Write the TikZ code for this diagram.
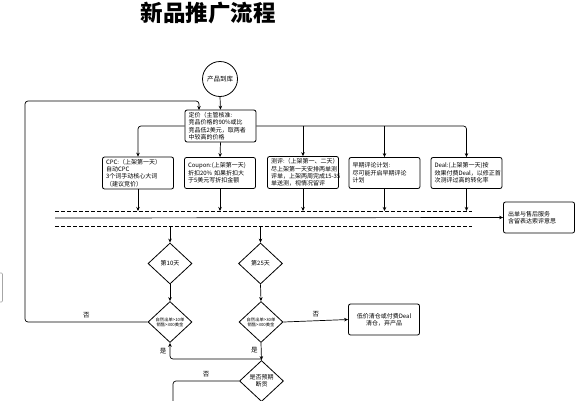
\documentclass[tikz,border=0pt]{standalone}
\usepackage{fontspec}
\setmainfont{Noto Sans CJK SC}
\usetikzlibrary{shapes.geometric,arrows.meta}

\tikzset{
  stepbox/.style={draw, rounded corners=2pt, line width=0.8pt, align=left, text width=64pt,
    minimum width=71pt, minimum height=31pt, inner sep=2pt, font=\fontsize{6}{7.4}\selectfont},
  check/.style={draw, diamond, line width=0.8pt, inner sep=0pt, aspect=1.07,
    minimum width=44pt, minimum height=41pt, align=center, font=\fontsize{6}{7.4}\selectfont},
  smalltext/.style={font=\fontsize{4.3}{5.3}\selectfont},
  link/.style={line width=0.7pt, rounded corners=3pt},
  flow/.style={link, -{Stealth[length=4pt,width=3.5pt]}},
  bus/.style={line width=0.7pt, dash pattern=on 3.5pt off 2.5pt},
  lbl/.style={font=\fontsize{6.5}{8}\selectfont},
}

\begin{document}
\begin{tikzpicture}[x=1pt,y=-1pt]

   \useasboundingbox (0,0) rectangle (580,400);

   \node (Title) at (208,13) [font=\fontsize{22.5}{26}\selectfont\bfseries] {新品推广流程};

   \node (Start) at (220,79) [draw, circle, line width=0.8pt, minimum size=35pt, inner sep=0pt,
     font=\fontsize{6.5}{8}\selectfont] {产品到库};

   \node (Price) at (220.5,126) [stepbox] {定价（主管核准:\\竞品价格的90\%或比\\竞品低2美元，取两者\\中较高的价格};

   \node (Cpc) at (138,173) [stepbox] {CPC:（上架第一天）\\自动CPC\\3个词手动核心大词\\（建议竞价）};
   \node (Coupon) at (220,173) [stepbox] {Coupon:(上架第一天)\\折扣20\% 如果折扣大\\于5美元写折扣金额};
   \node (Review) at (303,172.5) [stepbox] {测评:（上架第一、二天）\\尽上架第一天安排两单测\\\mbox{评单，上架两周完成15-35}\\单送测，视情况留评};
   \node (Early) at (384.5,173) [stepbox] {早期评论计划:\\尽可能开启早期评论\\计划};
   \node (Deal) at (466.5,173) [stepbox] {Deal:(上架第一天)按\\效果付费Deal，以修正首\\次测评过高的转化率};

   \node (After) at (539,217.5) [stepbox, text width=62pt] {出单与售后服务\\含留表达索评意思};

   \node (Day10) at (170,263.5) [check] {第10天};
   \node (Day25) at (260.5,263.5) [check] {第25天};
   \node (Check10) at (170,322) [check, smalltext] {自然出单>10单\\销售>300美金};
   \node (Check25) at (261,322) [check, smalltext] {自然出单>30单\\销售>300美金};
   \node (Stock) at (261.5,381) [check] {是否预期\\断货};

   \node (Clear) at (384,319.5) [stepbox, align=center] {低价清仓或付费Deal\\清仓，弃产品};

   \coordinate (DashA) at (55,211);
   \coordinate (DashAEnd) at (472,211);
   \coordinate (BusL) at (55,218);
   \coordinate (DashB) at (55,226);
   \coordinate (DashBEnd) at (472,226);
   \coordinate (LoopL) at (25,101);
   \coordinate (Feed) at (199,110);
   \coordinate (YesJoin) at (261,359);
   \coordinate (StockOut) at (173,406);

   \draw [flow] (Start.south) -- (Price.north);
   \draw [flow] (Price.west) -| (Cpc.north);
   \draw [flow] (Price.east) -| (Deal.north);
   \draw [flow] (Price.south) -- (Coupon.north);
   \draw [flow] (Review.north |- Price.east) -- (Review.north);
   \draw [flow] (Early.north |- Price.east) -- (Early.north);

   \draw [flow] (Cpc.south) -- (Cpc.south |- DashA);
   \draw [flow] (Coupon.south) -- (Coupon.south |- DashA);
   \draw [flow] (Review.south) -- (Review.south |- DashA);
   \draw [flow] (Early.south) -- (Early.south |- DashA);
   \draw [flow] (Deal.south) -- (Deal.south |- DashA);

   \draw [bus] (DashA) -- (DashAEnd);
   \draw [bus] (DashB) -- (DashBEnd);
   \draw [flow] (BusL) -- (After.west);

   \draw [flow] (Day10.north |- DashB) -- (Day10.north);
   \draw [flow] (Day25.north |- DashB) -- (Day25.north);
   \draw [flow] (Day10.south) -- (Check10.north);
   \draw [flow] (Day25.south) -- (Check25.north);

   \draw [flow] (Check10.west) -- node [lbl, above, pos=0.5] {否} (Check10.west -| LoopL)
     -- (LoopL) -| (Feed);
   \draw [flow] (Check25.east) -- node [lbl, above, pos=0.5] {否} (Clear.west);
   \draw [flow] (Check25.south) -- node [lbl, left, pos=0.4] {是} (Stock.north);
   \draw [flow] (YesJoin) -| node [lbl, left, pos=0.75] {是} (Check10.south);
   \draw [link] (Stock.west) -- node [lbl, above, pos=0.5] {否} (Stock.west -| StockOut)
     -- (StockOut);

   \draw [gray!70, line width=0.6pt, rounded corners=1pt] (-3,273) rectangle (2.5,302);

\end{tikzpicture}
\end{document}
